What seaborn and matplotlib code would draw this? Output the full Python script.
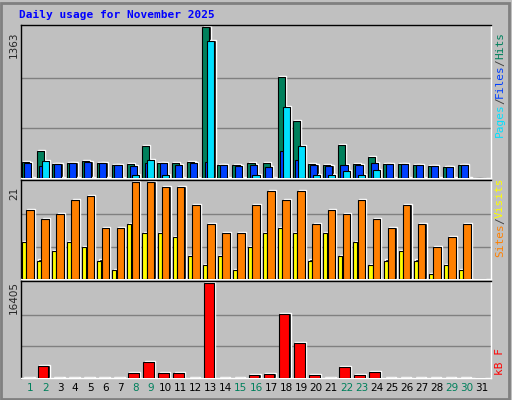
import numpy as np
import matplotlib.pyplot as plt
import seaborn as sns

days = list(range(1, 32))
weekend = [1, 2, 8, 9, 15, 16, 22, 23, 29, 30]

hits = [143, 243, 125, 135, 152, 135, 115, 125, 290, 135, 135, 143, 1363, 115, 115,
        135, 135, 910, 515, 125, 115, 300, 125, 190, 125, 125, 115, 105, 97, 115, 0]
files = [135, 105, 125, 135, 143, 135, 115, 105, 135, 135, 115, 135, 143, 115, 105,
         115, 97, 243, 160, 115, 105, 115, 115, 135, 125, 125, 115, 105, 97, 115, 0]
pages = [3, 152, 3, 3, 3, 3, 3, 25, 160, 25, 3, 3, 1240, 3, 3,
         25, 3, 640, 290, 25, 25, 60, 25, 70, 3, 3, 3, 3, 3, 3, 0]
visits = [15, 13, 14, 17, 18, 11, 11, 21, 21, 20, 20, 16, 12, 10, 10,
          16, 19, 17, 19, 12, 15, 14, 17, 13, 11, 16, 12, 7, 9, 12, 0]
sites = [8, 4, 6, 8, 7, 4, 2, 12, 10, 10, 9, 5, 3, 5, 2,
         7, 10, 11, 10, 4, 10, 5, 8, 3, 4, 6, 4, 1, 3, 2, 0]
kbytes = [60, 2095, 60, 60, 60, 60, 60, 840, 2750, 840, 840, 60, 16405, 60, 60,
          480, 660, 11015, 5990, 480, 60, 1915, 480, 1020, 60, 60, 60, 60, 60, 60, 0]

sns.set_style("white")
plt.rcParams['font.family'] = ['DejaVu Sans Mono', 'DejaVu Sans']

W, H = 512, 400
fig = plt.figure(figsize=(W / 100, H / 100), dpi=100, facecolor='#c0c0c0')
x = np.array(days, dtype=float)


def panel(top, bottom):
    ax = fig.add_axes([21 / W, 1 - bottom / H, 470 / W, (bottom - top) / H])
    ax.set_facecolor('#c0c0c0')
    ax.set_xlim(0.4, 31.6)
    ax.set_xticks([])
    ax.set_yticks([])
    for s in ax.spines.values():
        s.set_color('black')
        s.set_linewidth(1)
    ax.spines['bottom'].set_color('white')
    ax.spines['right'].set_color('white')
    return ax


def shadow_bars(ax, pos, vals, width, color, ymax, px_h):
    vals = np.array(vals, dtype=float)
    has = vals > 0
    off = ymax * 2.5 / px_h
    ax.bar(pos[has] + 0.08, vals[has] + off, width, bottom=-off * 0.6, color='black', zorder=2)
    ax.bar(pos, vals, width, color=color, edgecolor='black', linewidth=0.8, zorder=3)


# top: hits / files / pages
ax1 = panel(25, 178)
ymax1 = max(hits)
ax1.set_ylim(0, ymax1 * 1.015)
for g in (ymax1 / 3, ymax1 * 2 / 3):
    ax1.axhline(g, color='#808080', lw=1, zorder=1)
shadow_bars(ax1, x - 0.33, hits, 0.47, '#00805c', ymax1, 150)
shadow_bars(ax1, x - 0.16, files, 0.47, '#0040ff', ymax1, 150)
shadow_bars(ax1, x + 0.0, pages, 0.47, '#00e0ff', ymax1, 150)

# middle: sites / visits
ax2 = panel(180, 279)
ymax2 = max(visits)
ax2.set_ylim(0, ymax2 * 1.02)
for g in (7, 14):
    ax2.axhline(g, color='#808080', lw=1, zorder=1)
shadow_bars(ax2, x - 0.4, sites, 0.27, '#ffff00', ymax2, 95)
shadow_bars(ax2, x + 0.0, visits, 0.5, '#ff8000', ymax2, 95)

# bottom: kB
ax3 = panel(281, 378)
ymax3 = max(kbytes)
ax3.set_ylim(0, ymax3 * 1.02)
for g in (ymax3 / 3, ymax3 * 2 / 3):
    ax3.axhline(g, color='#808080', lw=1, zorder=1)
shadow_bars(ax3, x - 0.13, kbytes, 0.7, '#ff0000', ymax3, 92)

for d in days:
    ax3.text(d, -0.1, str(d), transform=ax3.get_xaxis_transform(), ha='center', va='center',
             fontsize=7.5, family='DejaVu Sans',
             color='#00805c' if d in weekend else 'black')

fig.text(19 / W, 1 - 15 / H, 'Daily usage for November 2025', color='#0000ff',
         fontsize=8, fontweight='bold', va='center')
for y, lab in ((45, '1363'), (193, '21'), (297, '16405')):
    fig.text(14 / W, 1 - y / H, lab, rotation=90, fontsize=7.5, family='DejaVu Sans',
             ha='center', va='center')


def side_label(ybot, parts):
    yy = ybot
    for txt, col in parts:
        fig.text(500 / W, 1 - yy / H, txt, rotation=90, color=col, fontsize=8,
                 ha='center', va='bottom')
        yy -= len(txt) * 6.5


side_label(137, [('Pages', '#00e0ff'), ('/', '#404040'), ('Files', '#0040ff'),
                 ('/', '#404040'), ('Hits', '#00805c')])
side_label(257, [('Sites', '#ff8000'), ('/', '#404040'), ('Visits', '#ffff00')])
side_label(375, [('kB F', '#ff0000')])

# outer border
fig.patches.append(plt.Rectangle((1 / W, 1 / H), 1 - 4 / W, 1 - 4 / H, transform=fig.transFigure,
                                 fill=False, edgecolor='#808080', lw=2))
fig.savefig('out.png', dpi=100, facecolor=fig.get_facecolor())
